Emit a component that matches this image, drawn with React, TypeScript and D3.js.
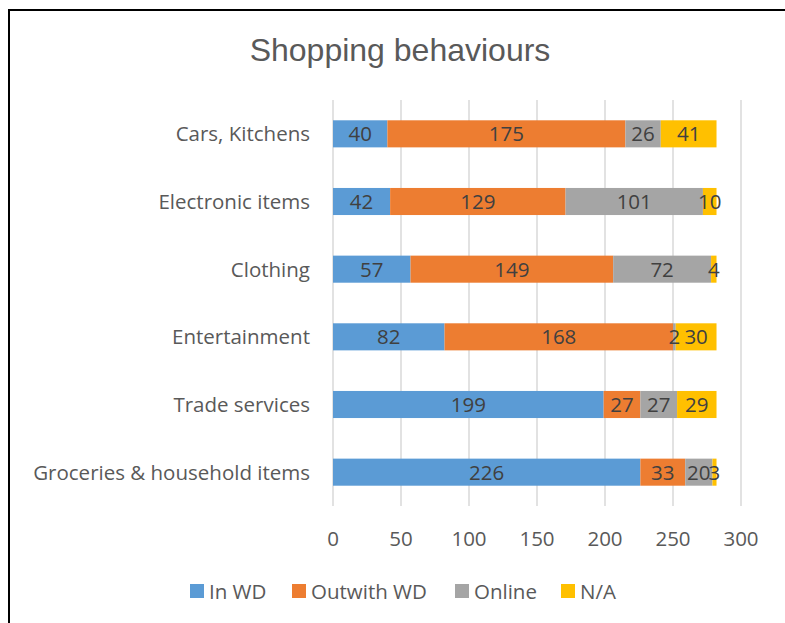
import React from "react";
import * as d3 from "d3";

const categories = [
  "Cars, Kitchens",
  "Electronic items",
  "Clothing",
  "Entertainment",
  "Trade services",
  "Groceries & household items",
];
const seriesNames = ["In WD", "Outwith WD", "Online", "N/A"];
const inWD = [40, 42, 57, 82, 199, 226];
const outwithWD = [175, 129, 149, 168, 27, 33];
const online = [26, 101, 72, 2, 27, 20];
const na = [41, 10, 4, 30, 29, 3];
const xTicks = [0, 50, 100, 150, 200, 250, 300];
const colors = ["#5B9BD5", "#ED7D31", "#A5A5A5", "#FFC000"];

const W = 785;
const H = 623;
const left = 333;
const right = 741;
const top = 100;
const bottom = 506;
const FONT = "'Open Sans', 'Noto Sans', sans-serif";
const FS = 20.5;

export default function App() {
  const seriesValues = [inWD, outwithWD, online, na];
  const rows = categories.map((c, i) => {
    const r: any = { cat: c };
    seriesNames.forEach((s, j) => (r[s] = seriesValues[j][i]));
    return r;
  });
  const stack = d3.stack<any>().keys(seriesNames)(rows);
  const x = d3.scaleLinear().domain([0, 300]).range([left, right]);
  const y = d3
    .scaleBand<string>()
    .domain(categories)
    .range([top, bottom])
    .paddingInner(0.6)
    .paddingOuter(0.3);

  return (
    <svg
      width={W}
      height={H}
      style={{ position: "absolute", left: 0, top: 0, background: "#fff" }}
      fontFamily={FONT}
    >
      <rect x={0} y={0} width={W} height={H} fill="#fff" />
      <line x1={9} y1={10} x2={9} y2={H} stroke="#000" strokeWidth={2} />
      <line x1={8} y1={10} x2={W} y2={10} stroke="#000" strokeWidth={2} />
      <text
        x={400}
        y={61}
        textAnchor="middle"
        fontSize={32}
        fill="#595959"
        fontFamily="'Liberation Sans Narrow', 'Liberation Sans', Arial, sans-serif"
      >
        Shopping behaviours
      </text>
      {xTicks.map((t) => (
        <g key={t}>
          <line
            x1={x(t)}
            x2={x(t)}
            y1={top}
            y2={bottom}
            stroke="#D9D9D9"
            strokeWidth={1.5}
          />
          <text
            x={x(t)}
            y={546}
            textAnchor="middle"
            fontSize={FS}
            fill="#595959"
          >
            {t}
          </text>
        </g>
      ))}
      {categories.map((c) => (
        <text
          key={c}
          x={310}
          y={(y(c) as number) + y.bandwidth() / 2 + 7.5}
          textAnchor="end"
          fontSize={FS}
          fill="#595959"
        >
          {c}
        </text>
      ))}
      {stack.map((s, si) => (
        <g key={s.key}>
          {s.map((d, i) => (
            <rect
              key={i}
              x={x(d[0])}
              y={y(categories[i])}
              width={x(d[1]) - x(d[0])}
              height={y.bandwidth()}
              fill={colors[si]}
            />
          ))}
        </g>
      ))}
      {stack.map((s, si) => (
        <g key={"l" + s.key}>
          {s.map((d, i) => (
            <text
              key={i}
              x={(x(d[0]) + x(d[1])) / 2}
              y={(y(categories[i]) as number) + y.bandwidth() / 2 + 7.5}
              textAnchor="middle"
              fontSize={FS}
              fill="#404040"
            >
              {d[1] - d[0]}
            </text>
          ))}
        </g>
      ))}
      {(() => {
        const pos = [190, 292, 455, 561];
        return seriesNames.map((s, i) => (
          <g key={s}>
            <rect x={pos[i]} y={584} width={14} height={14} fill={colors[i]} />
            <text x={pos[i] + 19} y={598.5} fontSize={FS} fill="#595959">
              {s}
            </text>
          </g>
        ));
      })()}
    </svg>
  );
}
